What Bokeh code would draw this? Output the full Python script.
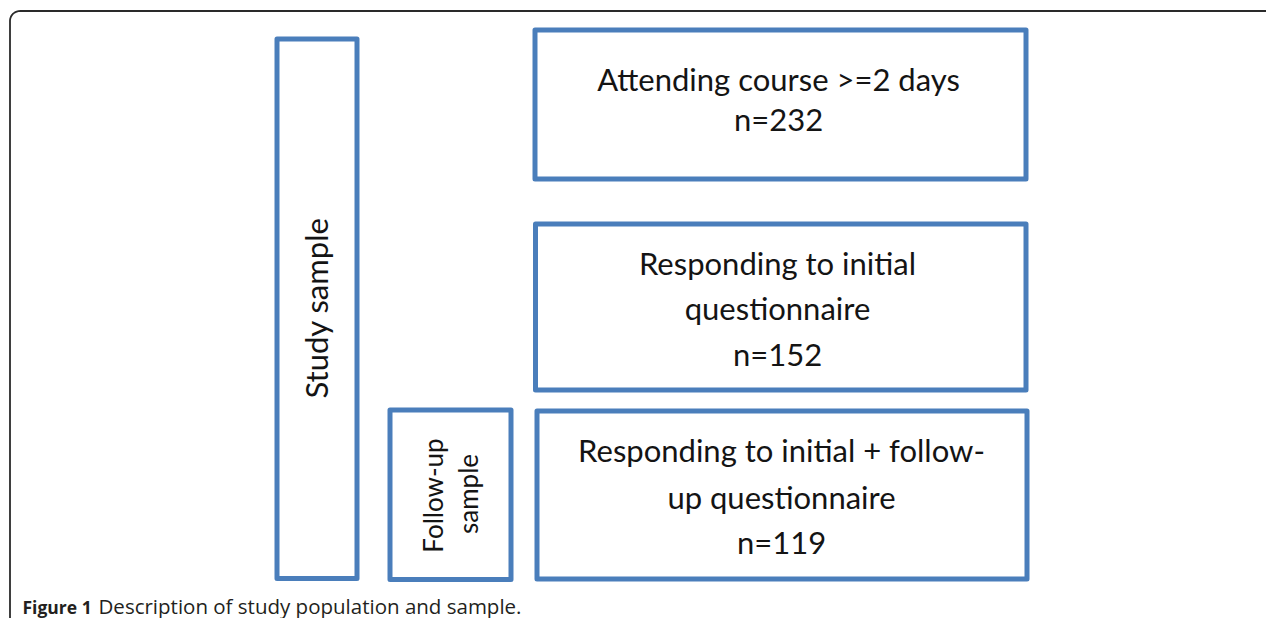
import numpy as np
from bokeh.plotting import figure
from bokeh.models import Range1d
from bokeh.core.properties import value
from bokeh.embed import file_html
from bokeh.resources import INLINE

# ---- content ----
stage_labels = ["Attending course >=2 days",
                "Responding to initial\nquestionnaire",
                "Responding to initial + follow-\nup questionnaire"]
stage_counts = [232, 152, 119]
group_labels = ["Study sample", "Follow-up\nsample"]
caption_bold = "Figure 1"
caption_text = "Description of study population and sample."

# ---- layout (pixel space of the picture) ----
W, H = 1266, 618
p = figure(width=W, height=H, output_backend="svg", toolbar_location=None,
           x_range=Range1d(0, W), y_range=Range1d(H, 0),
           min_border=0, outline_line_color=None)
p.axis.visible = False
p.grid.visible = False
p.background_fill_color = "white"
p.border_fill_color = "white"

BLUE = "#4a7ebb"
TXT = "#141414"
FONT = value("Lato")

# outer frame with rounded top-left corner
r = 10
ang = np.linspace(np.pi, 1.5 * np.pi, 20)
fx = [9.5] + list(9.5 + r + r * np.cos(ang)) + [1300]
fy = [640] + list(10.5 + r + r * np.sin(ang)) + [10.5]
p.line(fx, fy, line_color="#2a2a2a", line_width=1.8)

# stage boxes
stage_boxes = dict(left=[534.5, 535, 536.5], right=[1025.5, 1025.5, 1026.5],
                   top=[29.5, 223.5, 410.5], bottom=[178.5, 389.5, 578.5])
p.quad(**stage_boxes, fill_color=None, line_color=BLUE, line_width=5, line_join="round")

# group boxes
group_boxes = dict(left=[276.5, 389.5], right=[356.5, 510.5],
                   top=[38.5, 409.5], bottom=[578, 579])
p.quad(**group_boxes, fill_color=None, line_color=BLUE, line_width=5, line_join="round")

# stage texts, line anchors
anchors = [[78, 118], [262, 307, 353], [449, 496, 541]]
centers = [778, 777, 781]
tx, ty, tt = [], [], []
for lab, n, bl, cx in zip(stage_labels, stage_counts, anchors, centers):
    lines = lab.split("\n") + [f"n={n}"]
    for ln, y in zip(lines, bl):
        tx.append(cx)
        ty.append(y)
        tt.append(ln)
p.text(x=tx, y=ty, text=tt, text_font=FONT, text_font_size="31px",
       text_color=TXT, text_align="center", text_baseline="alphabetic")

# rotated group texts
p.text(x=[315], y=[307.5], text=[group_labels[0]], angle=np.pi / 2,
       text_font=FONT, text_font_size="31px", text_color=TXT,
       text_align="center", text_baseline="alphabetic")
fl = group_labels[1].split("\n")
p.text(x=[432, 467], y=[495, 493.5], text=fl, angle=np.pi / 2,
       text_font=FONT, text_font_size="26px", text_color=TXT,
       text_align="center", text_baseline="alphabetic")

# caption
p.text(x=[22], y=[606], text=[caption_bold], text_font=value("Open Sans"),
       text_font_size="17.5px", text_font_style="bold", text_color="#231f20",
       text_align="left", text_baseline="alphabetic")
p.text(x=[98], y=[605], text=[caption_text], text_font=value("Open Sans"),
       text_font_size="20.5px", text_color="#231f20",
       text_align="left", text_baseline="alphabetic")

open("out.html", "w").write(file_html(p, INLINE))
